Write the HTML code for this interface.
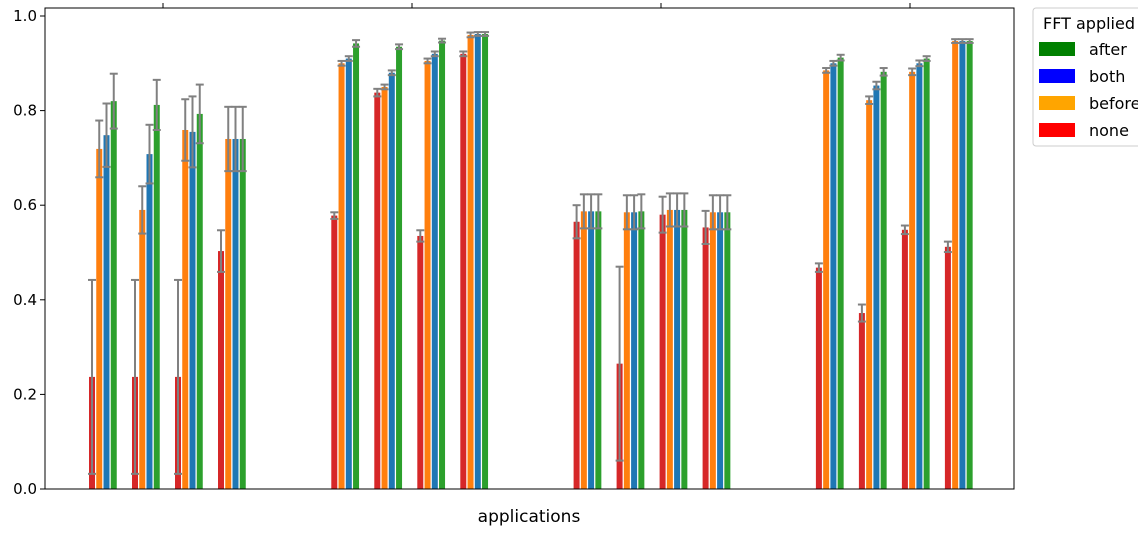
<!DOCTYPE html>
<html><head><meta charset="utf-8"><style>
body{margin:0;background:#fff;}
svg{display:block;font-family:"DejaVu Sans","Liberation Sans",sans-serif;}
</style></head><body>
<svg id="chart" width="1138" height="534" viewBox="0 0 1138 534" xmlns="http://www.w3.org/2000/svg">
<g id="bars"></g>
<g id="axes"></g>
<text x="529" y="522" font-size="17" text-anchor="middle">applications</text>
<g>
<rect x="1033" y="8" width="120" height="138" rx="3" fill="#fff" stroke="#ccc"/>
<text x="1043" y="29" font-size="16">FFT applied</text>
<g><rect x="1039" y="42" width="36" height="14" fill="#008000"/><text x="1089" y="55" font-size="16">after</text></g>
<g><rect x="1039" y="69" width="36" height="14" fill="#0000ff"/><text x="1089" y="82" font-size="16">both</text></g>
<g><rect x="1039" y="96" width="36" height="14" fill="#ffa500"/><text x="1089" y="109" font-size="16">before</text></g>
<g><rect x="1039" y="123" width="36" height="14" fill="#ff0000"/><text x="1089" y="136" font-size="16">none</text></g>
</g>
</svg>
<script>
const yTicks=[0,0.2,0.4,0.6,0.8,1.0];
const yTickLabels=["0.0","0.2","0.4","0.6","0.8","1.0"];
const seriesNames=["none","before","both","after"];
// 16 subgroups (4 applications x 4 configs)
const noneVals=[0.237,0.237,0.237,0.503, 0.578,0.838,0.535,0.92, 0.565,0.265,0.58,0.553, 0.468,0.372,0.548,0.512];
const noneErr=[0.205,0.205,0.205,0.044, 0.007,0.008,0.012,0.005, 0.035,0.205,0.038,0.035, 0.009,0.018,0.009,0.011];
const beforeVals=[0.719,0.59,0.759,0.74, 0.9,0.85,0.905,0.96, 0.587,0.585,0.59,0.585, 0.885,0.822,0.882,0.947];
const beforeErr=[0.06,0.05,0.065,0.068, 0.005,0.005,0.005,0.005, 0.036,0.036,0.035,0.036, 0.005,0.008,0.007,0.004];
const bothVals=[0.748,0.708,0.755,0.74, 0.91,0.88,0.92,0.962, 0.587,0.585,0.59,0.585, 0.9,0.853,0.9,0.947];
const bothErr=[0.067,0.062,0.075,0.068, 0.005,0.005,0.005,0.004, 0.036,0.036,0.035,0.036, 0.005,0.008,0.006,0.004];
const afterVals=[0.82,0.812,0.793,0.74, 0.942,0.935,0.948,0.962, 0.587,0.587,0.59,0.585, 0.912,0.882,0.91,0.947];
const afterErr=[0.058,0.053,0.062,0.068, 0.007,0.005,0.004,0.004, 0.036,0.036,0.035,0.036, 0.006,0.008,0.005,0.004];

const NS="http://www.w3.org/2000/svg";
const X0=45,X1=1014,Y0=8,Y1=489;
function yScale(v){return 489-v*473;}
function xSub(i){const g=Math.floor(i/4),k=i%4;return 89+g*242.3+k*43;}
const colors=["#d62728","#ff7f0e","#1f77b4","#2ca02c"];
const vals=[noneVals,beforeVals,bothVals,afterVals];
const errs=[noneErr,beforeErr,bothErr,afterErr];
const bars=document.getElementById('bars');
function mk(t,a,p){const e=document.createElementNS(NS,t);for(const k in a)e.setAttribute(k,a[k]);(p||bars).appendChild(e);return e;}
for(let s=0;s<4;s++){
  for(let i=0;i<noneVals.length;i++){
    const x=xSub(i)+s*7.25, v=vals[s][i];
    const r=mk('rect',{x:x,y:yScale(v),width:6,height:yScale(0)-yScale(v),fill:colors[s]});
    
    
  }
}
for(let s=0;s<4;s++){
  for(let i=0;i<noneVals.length;i++){
    const cx=xSub(i)+s*7.25+3, v=vals[s][i], e=errs[s][i];
    const lo=yScale(Math.max(0,v-e)), hi=yScale(v+e);
    const g=mk('g',{stroke:'#808080','stroke-width':2});
    
    
    mk('line',{x1:cx,x2:cx,y1:lo,y2:hi},g);
    mk('line',{x1:cx-4,x2:cx+4,y1:lo,y2:lo},g);
    mk('line',{x1:cx-4,x2:cx+4,y1:hi,y2:hi},g);
  }
}
const axes=document.getElementById('axes');
const frame=mk('rect',{x:X0,y:Y0,width:X1-X0,height:Y1-Y0,fill:'none',stroke:'#000','stroke-width':1},axes);


for(let i=0;i<yTicks.length;i++){
  const y=yScale(yTicks[i]);
  mk('line',{x1:X0-5,x2:X0,y1:y,y2:y,stroke:'#000'},axes);
  const t=mk('text',{x:X0-8,y:y+5,'font-size':15,'text-anchor':'end'},axes);
  t.textContent=yTickLabels[i];
  
  
}
for(let g=0;g<4;g++){
  const x=163+g*249;
  mk('line',{x1:x,x2:x,y1:Y0,y2:Y0-5,stroke:'#000'},axes);
}
</script>
</body></html>
